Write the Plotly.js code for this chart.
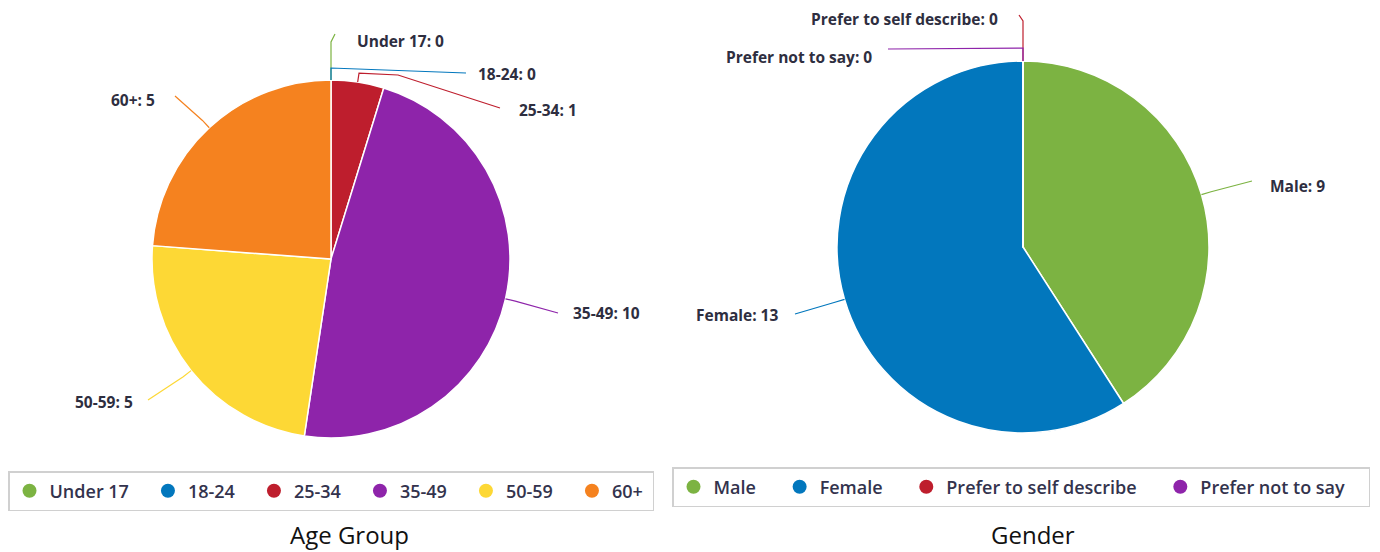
<!DOCTYPE html>
<html>
<head>
<meta charset="utf-8">
<script src="https://cdn.plot.ly/plotly-3.0.1.min.js"></script>
<style>html,body{margin:0;padding:0;background:#fff;}#chart{width:1380px;height:552px;}</style>
</head>
<body>
<div id="chart"></div>
<script>
// ---------------- DATA ----------------
const ageLabels = ['Under 17', '18-24', '25-34', '35-49', '50-59', '60+'];
const ageValues = [0, 0, 1, 10, 5, 5];
const genderLabels = ['Male', 'Female', 'Prefer to self describe', 'Prefer not to say'];
const genderValues = [9, 13, 0, 0];
const chartTitles = ['Age Group', 'Gender'];

// ---------------- STYLE / LAYOUT CONFIG ----------------
const ageColors = ['#7cb342', '#0277bd', '#be1e2d', '#8e24aa', '#fdd835', '#f5821f'];
const genderColors = ['#7cb342', '#0277bd', '#be1e2d', '#8e24aa'];
const W = 1380, H = 552;
const agePie = {cx: 331, cy: 259, r: 179};
const genderPie = {cx: 1023, cy: 247, r: 186};
// label placement: text position (px), side, radial elbow distance, extra via points, connector end
const ageLabelCfg = [
  {tx: 355, ty: 41, side: 'left', elbow: 38, via: [], end: [335, 34]},
  {tx: 476, ty: 74, side: 'left', elbow: 12, via: [], end: [466, 73]},
  {tx: 517, ty: 110, side: 'left', elbow: 9, via: [[398, 75]], end: [500, 108]},
  {tx: 571, ty: 313, side: 'left', elbow: 10, via: [], end: [558, 313]},
  {tx: 135, ty: 402, side: 'right', elbow: 10, via: [], end: [148, 400]},
  {tx: 157, ty: 100, side: 'right', elbow: 10, via: [], end: [175, 96]}
];
const genderLabelCfg = [
  {tx: 1268, ty: 186, side: 'left', elbow: 10, via: [], end: [1252, 181]},
  {tx: 780, ty: 315, side: 'right', elbow: 10, via: [], end: [795, 314]},
  {tx: 1000, ty: 19, side: 'right', elbow: 40, via: [], end: [1019, 15]},
  {tx: 874, ty: 57, side: 'right', elbow: 13, via: [], end: [888, 49]}
];
const labelFont = {family: 'Open Sans, sans-serif', size: 15.5, weight: 700, color: '#2e2e40'};

function domainOf(p) {
  return {x: [(p.cx - p.r) / W, (p.cx + p.r) / W], y: [1 - (p.cy + p.r) / H, 1 - (p.cy - p.r) / H]};
}

function pieTrace(labels, values, colors, geo) {
  return {
    type: 'pie', labels: labels, values: values, sort: false, direction: 'clockwise', rotation: 0,
    domain: domainOf(geo), textinfo: 'none', showlegend: false, hoverinfo: 'label+value',
    marker: {colors: colors, line: {color: '#ffffff', width: 1.5}}
  };
}

function legendTraces(labels, colors, legendId, pad, endPad) {
  return labels.map((l, i) => ({
    type: 'scatter', mode: 'markers', x: [null], y: [null],
    name: l + (i < labels.length - 1 ? pad : endPad), legend: legendId,
    marker: {color: colors[i], size: 14, symbol: 'circle'}, hoverinfo: 'skip'
  }));
}

const shapes = [];
const annotations = [];
function addLabels(labels, values, colors, geo, cfg) {
  const total = values.reduce((a, b) => a + b, 0);
  let cum = 0;
  values.forEach((v, i) => {
    const mid = (cum + v / 2) / total * 2 * Math.PI;
    cum += v;
    const sx = geo.cx + geo.r * Math.sin(mid), sy = geo.cy - geo.r * Math.cos(mid);
    const c = cfg[i];
    const ex = geo.cx + (geo.r + c.elbow) * Math.sin(mid), ey = geo.cy - (geo.r + c.elbow) * Math.cos(mid);
    let path = `M${sx},${sy} L${ex},${ey}`;
    c.via.forEach(p => { path += ` L${p[0]},${p[1]}`; });
    path += ` L${c.end[0]},${c.end[1]}`;
    shapes.push({type: 'path', xref: 'x', yref: 'y', path: path, line: {color: colors[i], width: 1.2}, layer: 'above'});
    annotations.push({
      xref: 'x', yref: 'y', x: c.tx, y: c.ty, xanchor: c.side, yanchor: 'middle', showarrow: false,
      text: `${labels[i]}: ${v}`, font: labelFont
    });
  });
}
addLabels(ageLabels, ageValues, ageColors, agePie, ageLabelCfg);
addLabels(genderLabels, genderValues, genderColors, genderPie, genderLabelCfg);

const titleFont = {family: 'Open Sans, sans-serif', size: 24, color: '#111111'};
annotations.push({xref: 'x', yref: 'y', x: 349, y: 534, xanchor: 'center', yanchor: 'middle', showarrow: false, text: chartTitles[0], font: titleFont});
annotations.push({xref: 'x', yref: 'y', x: 1033, y: 534, xanchor: 'center', yanchor: 'middle', showarrow: false, text: chartTitles[1], font: titleFont});

const legendFont = {family: 'Open Sans, sans-serif', size: 18, weight: 600, color: '#33334d'};
const data = [
  pieTrace(ageLabels, ageValues, ageColors, agePie),
  pieTrace(genderLabels, genderValues, genderColors, genderPie),
  ...legendTraces(ageLabels, ageColors, 'legend', '\u00a0\u00a0\u00a0', '\u00a0'),
  ...legendTraces(genderLabels, genderColors, 'legend2', '\u00a0\u00a0\u00a0\u00a0', '\u00a0\u00a0\u00a0\u00a0')
];

const layout = {
  width: W, height: H, margin: {l: 0, r: 0, t: 0, b: 0},
  paper_bgcolor: '#ffffff', plot_bgcolor: 'rgba(0,0,0,0)',
  xaxis: {range: [0, W], visible: false, fixedrange: true},
  yaxis: {range: [H, 0], visible: false, fixedrange: true},
  shapes: shapes, annotations: annotations,
  legend: {orientation: 'h', x: 8 / W, y: 1 - 471 / H, xanchor: 'left', yanchor: 'top',
    bgcolor: '#ffffff', bordercolor: '#d0d0d0', borderwidth: 1.5, font: legendFont, itemclick: false},
  legend2: {orientation: 'h', x: 672 / W, y: 1 - 467 / H, xanchor: 'left', yanchor: 'top',
    bgcolor: '#ffffff', bordercolor: '#d0d0d0', borderwidth: 1.5, font: legendFont, itemclick: false}
};

Plotly.newPlot('chart', data, layout, {displayModeBar: false, staticPlot: true});
</script>
</body>
</html>
